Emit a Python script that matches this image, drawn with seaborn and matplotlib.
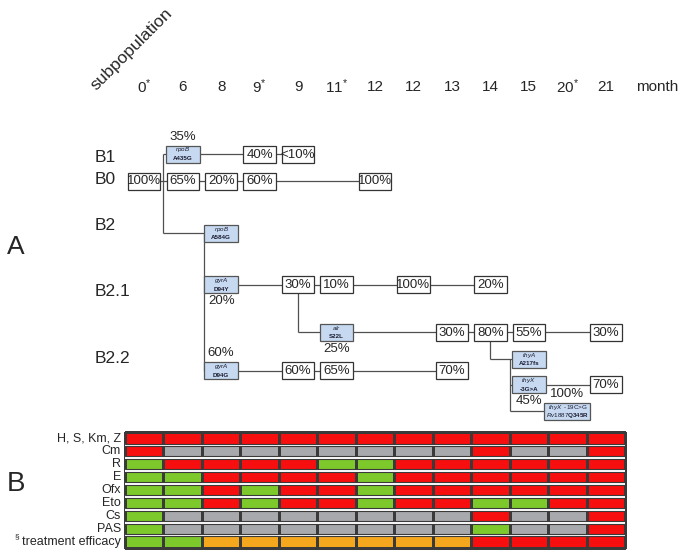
import matplotlib
matplotlib.use('Agg')
import pandas as pd
import matplotlib.pyplot as plt
import seaborn as sns
from matplotlib.colors import ListedColormap
from matplotlib.patches import Rectangle


# sampling months (columns shared by panel A and B)
months = ['0$^{*}$', '6', '8', '9$^{*}$', '9', '11$^{*}$', '12', '12', '13', '14', '15', '20$^{*}$', '21']

# panel A: subpopulation frequencies per column
b0_cols = [0, 1, 2, 3, 6]
b0_freq = ['100%', '65%', '20%', '60%', '100%']
b1_cols = [3, 4]
b1_freq = ['40%', '<10%']
b21_cols = [4, 5, 7, 9]
b21_freq = ['30%', '10%', '100%', '20%']
b21alr_cols = [8, 9, 10, 12]
b21alr_freq = ['30%', '80%', '55%', '30%']
b22_cols = [4, 5, 8]
b22_freq = ['60%', '65%', '70%']
thyx_cols = [12]
thyx_freq = ['70%']

# panel A: acquired mutations (lane, column, first line, second line, frequency, where)
mutations = [
    ('B1', 1, r'$\it{rpoB}$', 'A435G', '35%', 'above'),
    ('B2', 2, r'$\it{rpoB}$', 'A584G', '', ''),
    ('B2.1', 2, r'$\it{gyrA}$', 'D94Y', '20%', 'below'),
    ('alr', 5, r'$\it{alr}$', 'S22L', '25%', 'below'),
    ('B2.2', 2, r'$\it{gyrA}$', 'D94G', '60%', 'above'),
    ('thyA', 10, r'$\it{thyA}$', 'A217fs', '', ''),
    ('thyX', 10, r'$\it{thyX}$', '-3G>A', '45%', 'below'),
    ('thyX2', 11, r'$\it{thyX}$  -19C>G', r'$\it{Rv1887}$Q345R', '100%', 'above'),
]

# panel B: drug susceptibility (s = susceptible, r = resistant, n = not tested, p = partial)
drugs = ['H, S, Km, Z', 'Cm', 'R', 'E', 'Ofx', 'Eto', 'Cs', 'PAS', 'treatment efficacy']
hskz = list('rrrrrrrrrrrrr')
cm = list('rnnnnnnnnrnnr')
rif = list('srrrrssrrrrrr')
emb = list('ssrrrrsrrrrrr')
ofx = list('ssrsrrsrrrrrr')
eto = list('ssrsrrsrrssrr')
cs = list('snnnnnnnnrnnr')
pas = list('snnnnnnnnsnnr')
efficacy = list('ssppppppprrrr')

status_code = {'s': 0, 'p': 1, 'n': 2, 'r': 3}
status_colors = ['#7dc92b', '#f5a71d', '#a7a9ac', '#f70f0f']


sns.set_theme(style='white')
plt.rcParams['font.family'] = ['Liberation Sans', 'DejaVu Sans']
plt.rcParams['mathtext.fontset'] = 'custom'
plt.rcParams['mathtext.rm'] = 'Liberation Sans'
plt.rcParams['mathtext.it'] = 'Liberation Sans:italic'
plt.rcParams['mathtext.bf'] = 'Liberation Sans:bold'

W, H = 683, 555
fig = plt.figure(figsize=(W / 100, H / 100), dpi=100)
fig.patch.set_facecolor('white')

# ---------------- panel A ----------------
axA = fig.add_axes([125 / W, 1 - 425 / H, 500 / W, 425 / H])
axA.set_xlim(0, 13)
axA.set_ylim(425, 0)
axA.axis('off')

lane_y = {'B1': 154, 'B0': 181, 'B2': 233.5, 'B2.1': 285, 'alr': 332.5,
          'B2.2': 371, 'thyA': 359.5, 'thyX': 385, 'thyX2': 411.5}
line_kw = dict(color='#505050', lw=0.9, zorder=1, solid_capstyle='butt')
box_h = 17


def freq_box(col, lane, label):
    y = lane_y[lane]
    w = 0.84
    axA.add_patch(Rectangle((col + 0.5 - w / 2, y - box_h / 2), w, box_h,
                            facecolor='white', edgecolor='#333333', lw=0.9, zorder=2))
    axA.text(col + 0.5, y + 0.5, label, ha='center', va='center', fontsize=9.5, zorder=3)


def mut_box(lane, col, top, bottom, freq, side):
    y = lane_y[lane]
    w = 1.2 if lane == 'thyX2' else 0.88
    axA.add_patch(Rectangle((col + 0.5 - w / 2, y - box_h / 2), w, box_h,
                            facecolor='#c6d9f0', edgecolor='#555555', lw=0.9, zorder=2))
    axA.text(col + 0.5, y - 4.3, top, ha='center', va='center', fontsize=4.5,
             color='#1a1a2e', zorder=3)
    axA.text(col + 0.5, y + 4.3, bottom, ha='center', va='center', fontsize=4.5,
             fontweight='bold', color='#1a1a2e', zorder=3)
    if side == 'above':
        axA.text(col + 0.5, y - 17.5, freq, ha='center', va='center', fontsize=9.5)
    elif side == 'below':
        axA.text(col + 0.5, y + 16.5, freq, ha='center', va='center', fontsize=9.5)


# lineage lines
axA.plot([0.5, 6.5], [lane_y['B0']] * 2, **line_kw)
axA.plot([1.5, 4.5], [lane_y['B1']] * 2, **line_kw)
axA.plot([1.0, 1.0], [lane_y['B1'], lane_y['B2']], **line_kw)
axA.plot([1.0, 1.5], [lane_y['B1']] * 2, **line_kw)
axA.plot([1.0, 2.5], [lane_y['B2']] * 2, **line_kw)
axA.plot([2.05, 2.05], [lane_y['B2'], lane_y['B2.2']], **line_kw)
axA.plot([2.05, 9.5], [lane_y['B2.1']] * 2, **line_kw)
axA.plot([2.05, 8.5], [lane_y['B2.2']] * 2, **line_kw)
axA.plot([4.5, 4.5], [lane_y['B2.1'], lane_y['alr']], **line_kw)
axA.plot([4.5, 12.5], [lane_y['alr']] * 2, **line_kw)
axA.plot([9.5, 9.5], [lane_y['alr'], lane_y['thyA']], **line_kw)
axA.plot([9.5, 10.5], [lane_y['thyA']] * 2, **line_kw)
axA.plot([10.0, 10.0], [lane_y['thyA'], lane_y['thyX2']], **line_kw)
axA.plot([10.0, 12.5], [lane_y['thyX']] * 2, **line_kw)
axA.plot([10.0, 11.5], [lane_y['thyX2']] * 2, **line_kw)

for cols, freqs, lane in [(b0_cols, b0_freq, 'B0'), (b1_cols, b1_freq, 'B1'),
                          (b21_cols, b21_freq, 'B2.1'), (b21alr_cols, b21alr_freq, 'alr'),
                          (b22_cols, b22_freq, 'B2.2'), (thyx_cols, thyx_freq, 'thyX')]:
    for c, f in zip(cols, freqs):
        freq_box(c, lane, f)

for m in mutations:
    mut_box(*m)

# month header
for i, m in enumerate(months):
    axA.text(i + 0.5, 87, m, ha='center', va='center', fontsize=11)
axA.text(13.3, 87, 'month', ha='left', va='center', fontsize=11)
axA.text(-0.68, 93, 'subpopulation', rotation=45, rotation_mode='anchor',
         ha='left', va='bottom', fontsize=12.5)

# subpopulation names
for name, y in [('B1', 158), ('B0', 180), ('B2', 226), ('B2.1', 292), ('B2.2', 359)]:
    axA.text(-0.8, y, name, ha='left', va='center', fontsize=12.5)

fig.text(7 / W, 1 - 247 / H, 'A', ha='left', va='center', fontsize=19)
fig.text(7 / W, 1 - 484 / H, 'B', ha='left', va='center', fontsize=20)

# ---------------- panel B ----------------
table = pd.DataFrame([hskz, cm, rif, emb, ofx, eto, cs, pas, efficacy],
                     index=drugs, columns=range(len(months)))
codes = table.replace(status_code).astype(int)

axB = fig.add_axes([125 / W, 1 - 548 / H, 500 / W, 116 / H])
sns.heatmap(codes, ax=axB, cmap=ListedColormap(status_colors), vmin=-0.5, vmax=3.5,
            cbar=False, linewidths=0.8, linecolor='#3a3a3a',
            xticklabels=False, yticklabels=drugs)
axB.collections[0].set_clip_on(False)
for i in range(1, len(drugs)):
    axB.axhspan(i - 0.1, i + 0.1, color='white', zorder=3, lw=0)
    axB.axhline(i - 0.1, color='#3a3a3a', lw=0.8, zorder=4)
    axB.axhline(i + 0.1, color='#3a3a3a', lw=0.8, zorder=4)
axB.tick_params(axis='y', length=0, pad=3, labelsize=9, rotation=0)
axB.set_ylabel('')
# footnote mark in front of the last row label
fig.text(15 / W, 1 - 537 / H, '§', ha='left', va='center', fontsize=6)

fig.savefig('out.png', dpi=100, facecolor='white')
